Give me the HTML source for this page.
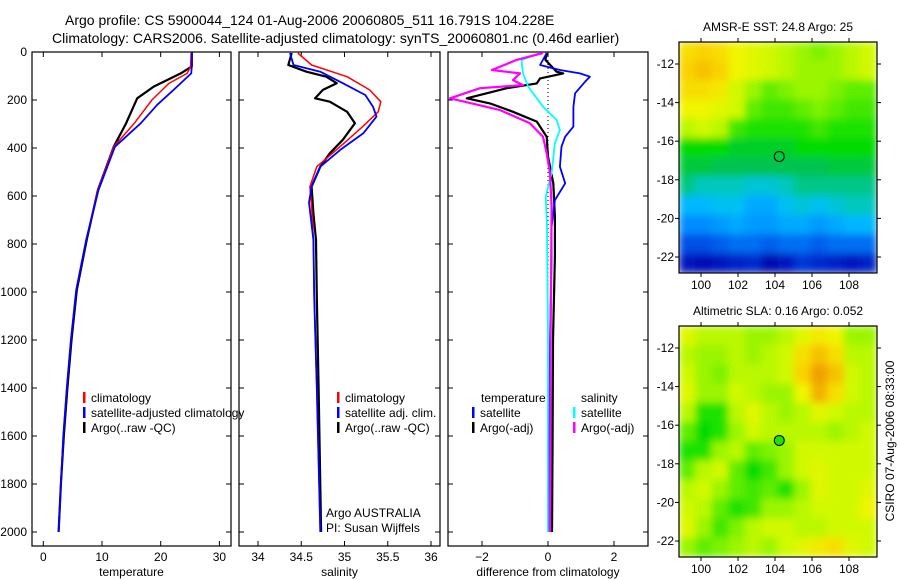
<!DOCTYPE html>
<html><head><meta charset="utf-8">
<style>
html,body{margin:0;padding:0;background:#fff;}
svg{display:block;font-family:"Liberation Sans",Arial,sans-serif;}
text{fill:#000;}
</style></head>
<body>
<svg id="chart" width="900" height="580" viewBox="0 0 900 580" xmlns="http://www.w3.org/2000/svg">
<text x="65" y="25" font-size="14">Argo profile: CS 5900044_124 01-Aug-2006 20060805_511 16.791S 104.228E</text>
<text x="52" y="43" font-size="14">Climatology: CARS2006. Satellite-adjusted climatology: synTS_20060801.nc (0.46d earlier)</text>
<g id="plots"></g>
</svg>
<script>
// ---------- data ----------
const depthTicks = [0,200,400,600,800,1000,1200,1400,1600,1800,2000];
const tempTicks = [0,10,20,30];
const salTicks = [34,34.5,35,35.5,36];
const diffTicks = [-2,0,2];
const latTicks = [-12,-14,-16,-18,-20,-22];
const lonTicks = [100,102,104,106,108];

const tClimDepth = [0,60,89,131,200,297,395,575,783,992,1200,1400,1600,1800,2000];
const tClimVal   = [25.2,25.1,24.5,21.4,18.5,15.5,12,9.3,7.3,5.6,4.7,4.0,3.4,3.0,2.6];
const tSatDepth  = [0,60,89,158,220,297,395,575,783,992,1200,1400,1600,1800,2000];
const tSatVal    = [25.3,25.3,25.2,22.2,19.4,16.6,12.2,9.4,7.3,5.6,4.7,4.0,3.4,3.0,2.6];
const tArgoDepth = [0,60,89,144,193,297,395,575,783,992,1200,1400,1600,1800,2000];
const tArgoVal   = [25.3,25.3,23.4,18.8,16,14.1,12,9.3,7.4,5.7,4.8,4.1,3.5,3.0,2.6];

const sClimDepth = [4,54,103,158,207,249,311,394,478,561,644,783,1020,1400,2000];
const sClimVal   = [34.46,34.62,35.03,35.29,35.42,35.39,35.21,34.95,34.68,34.6,34.62,34.64,34.65,34.68,34.72];
const sSatDepth  = [4,54,82,130,179,228,269,338,408,478,561,628,783,1020,1400,2000];
const sSatVal    = [34.37,34.41,34.72,34.98,35.24,35.33,35.37,35.22,34.95,34.72,34.62,34.59,34.64,34.65,34.68,34.72];
const sArgoDepth = [4,54,82,103,130,158,193,207,249,297,366,422,478,561,672,783,1020,1400,2000];
const sArgoVal   = [34.39,34.35,34.56,34.79,34.91,34.75,34.66,34.83,35.03,35.12,34.98,34.83,34.72,34.62,34.64,34.67,34.68,34.7,34.73];

const dTSatDepth = [4,54,75,89,103,124,172,228,311,353,394,478,547,617,728,853,1200,1600,2000];
const dTSatVal   = [-0.04,-0.24,0.36,0.97,1.27,1.12,0.82,0.77,0.77,0.52,0.41,0.36,0.52,0.21,0.11,0.11,0.06,0.05,0.05];
const dTArgoDepth = [4,33,82,89,110,131,151,193,214,249,290,353,436,547,686,853,1200,1600,2000];
const dTArgoVal   = [-0.04,-0.08,0.26,0.46,-0.24,-0.34,-1.25,-2.46,-1.76,-1.06,-0.34,-0.04,0.0,0.16,0.21,0.21,0.15,0.14,0.12];
const dSSatDepth = [4,33,89,144,228,283,325,380,505,603,728,1200,1600,2000];
const dSSatVal   = [-0.24,-0.8,-0.76,-0.6,-0.15,0.26,0.36,0.21,0.11,-0.07,-0.03,0.0,0.0,0.0];
const dSArgoDepth = [4,33,75,89,117,138,151,193,242,297,353,422,505,644,1200,1600,2000];
const dSArgoVal   = [-0.15,-0.95,-1.7,-0.85,-1.06,-0.76,-2.06,-2.97,-1.45,-0.55,-0.15,-0.04,0.06,0.11,0.08,0.07,0.06];

// map colour-scale values (0 = dark blue ... 1 = red), rows north->south
const sstGrid = [
[.72,.74,.72,.68,.66,.64,.62,.6,.58,.6,.62,.64],
[.74,.76,.74,.68,.66,.64,.62,.6,.6,.6,.62,.64],
[.72,.72,.7,.64,.6,.56,.58,.6,.6,.58,.56,.56],
[.68,.68,.66,.64,.56,.54,.54,.56,.58,.56,.54,.54],
[.62,.64,.62,.54,.52,.52,.52,.52,.54,.52,.52,.52],
[.5,.5,.5,.48,.48,.48,.48,.5,.5,.5,.5,.5],
[.47,.47,.46,.46,.46,.46,.46,.46,.46,.47,.47,.47],
[.44,.42,.42,.42,.40,.40,.42,.44,.44,.44,.44,.44],
[.36,.36,.38,.38,.34,.34,.38,.40,.38,.40,.42,.42],
[.30,.30,.32,.34,.32,.32,.34,.34,.32,.34,.36,.36],
[.22,.22,.24,.26,.26,.24,.26,.26,.24,.26,.26,.26],
[.12,.1,.12,.14,.16,.08,.12,.18,.16,.14,.12,.14]];
const slaGrid = [
[.66,.62,.62,.62,.6,.6,.62,.66,.7,.68,.6,.6],
[.62,.6,.6,.62,.6,.62,.64,.72,.76,.72,.62,.62],
[.64,.6,.58,.62,.62,.62,.64,.74,.8,.76,.64,.62],
[.66,.6,.6,.64,.62,.6,.6,.68,.78,.72,.64,.62],
[.62,.52,.52,.62,.66,.62,.6,.62,.66,.64,.62,.62],
[.56,.5,.52,.6,.64,.62,.62,.62,.62,.6,.62,.64],
[.52,.52,.6,.62,.56,.58,.6,.64,.64,.64,.64,.64],
[.56,.62,.64,.56,.5,.54,.6,.64,.66,.64,.64,.64],
[.62,.64,.6,.56,.54,.56,.52,.6,.66,.64,.64,.66],
[.64,.62,.56,.52,.54,.6,.6,.62,.64,.64,.64,.68],
[.66,.6,.54,.58,.62,.64,.64,.62,.62,.64,.64,.64],
[.6,.56,.58,.6,.62,.6,.64,.66,.7,.72,.66,.64]];
const argoLon = 104.23, argoLat = -16.79;

// ---------- drawing ----------
const NS="http://www.w3.org/2000/svg";
const root=document.getElementById('plots');
function mk(tag,attrs,parent){const e=document.createElementNS(NS,tag);for(const k in attrs)e.setAttribute(k,attrs[k]);(parent||root).appendChild(e);return e;}
function txt(s,x,y,size,anchor,parent){const t=mk('text',{x:x,y:y,'font-size':size,'text-anchor':anchor||'start'},parent);t.textContent=s;return t;}

const yD = d => 52 + d*0.24;
const xT = v => 43.3 + v*5.87;
const xS = v => 258 + (v-34)*86.5;
const xDf = v => 548 + v*33;

function panel(name,x0,x1,xf,ticks,title,labelFmt){
  const g=mk('g',{});
  
  
  const r=mk('rect',{x:x0,y:52,width:x1-x0,height:494,fill:'none',stroke:'#000','stroke-width':1.2},g);
  
  
  ticks.forEach(v=>{const x=xf(v);
    mk('line',{x1:x,x2:x,y1:546,y2:541,stroke:'#000'},g);
    mk('line',{x1:x,x2:x,y1:52,y2:57,stroke:'#000'},g);
    const t=txt(labelFmt?labelFmt(v):String(v),x,561,12,'middle',g);
    
    
  });
  depthTicks.forEach(d=>{const y=yD(d);
    mk('line',{x1:x0,x2:x0+5,y1:y,y2:y,stroke:'#000'},g);
    mk('line',{x1:x1,x2:x1-5,y1:y,y2:y,stroke:'#000'},g);
  });
  const at=txt(title,(x0+x1)/2,576,12,'middle',g);
  
  
  return g;
}
function series(g,name,xf,vals,depths,color,w){
  const pts=vals.map((v,i)=>xf(v).toFixed(1)+','+yD(depths[i]).toFixed(1)).join(' ');
  const p=mk('polyline',{points:pts,fill:'none',stroke:color,'stroke-width':w,'stroke-linejoin':'round'},g);
  
  
}
function legend(g,items,x,y){
  items.forEach((it,i)=>{
    const yy=y+i*15;
    mk('rect',{x:x,y:yy-10,width:2.5,height:11,fill:it[1]},g);
    const t=txt(it[0],x+8,yy,12,'start',g);
    
    
  });
}

// depth tick labels
depthTicks.forEach(d=>{const t=txt(String(d),27,yD(d)+4,12,'end');
  
  });

// temperature panel
const g1=panel('temperature-panel',32,231,xT,tempTicks,'temperature');
series(g1,'temp-argo-line',xT,tArgoVal,tArgoDepth,'#000',2.2);
series(g1,'temp-climatology-line',xT,tClimVal,tClimDepth,'#f00',1.5);
series(g1,'temp-satellite-line',xT,tSatVal,tSatDepth,'#00f',1.8);
legend(g1,[['climatology','#f00','climatology'],['satellite-adjusted climatology','#00f','satellite'],['Argo(..raw -QC)','#000','argo']],83,402);

// salinity panel
const g2=panel('salinity-panel',239,440,xS,salTicks,'salinity');
series(g2,'sal-argo-line',xS,sArgoVal,sArgoDepth,'#000',2.2);
series(g2,'sal-climatology-line',xS,sClimVal,sClimDepth,'#f00',1.5);
series(g2,'sal-satellite-line',xS,sSatVal,sSatDepth,'#00f',1.8);
legend(g2,[['climatology','#f00','climatology'],['satellite adj. clim.','#00f','satellite'],['Argo(..raw -QC)','#000','argo']],337,402);
{const t=txt('Argo AUSTRALIA',326,517,12,'start',g2);
 const t2=txt('PI: Susan Wijffels',326,532,12,'start',g2);}

// difference panel
const g3=panel('difference-panel',448,648,xDf,diffTicks,'difference from climatology',v=>v<0?'\u2212'+(-v):String(v));
mk('line',{x1:xDf(0),x2:xDf(0),y1:yD(0),y2:yD(2000),stroke:'#000','stroke-dasharray':'1,3','stroke-width':1},g3);
series(g3,'diff-temp-argo-line',xDf,dTArgoVal,dTArgoDepth,'#000',2.2);
series(g3,'diff-sal-satellite-line',xDf,dSSatVal,dSSatDepth,'#00ffff',1.8);
series(g3,'diff-temp-satellite-line',xDf,dTSatVal,dTSatDepth,'#00f',1.8);
series(g3,'diff-sal-argo-line',xDf,dSArgoVal,dSArgoDepth,'#f0f',2.2);
{const t=txt('temperature',481,402,12,'start',g3);
 const t2=txt('salinity',581,402,12,'start',g3);}
legend(g3,[['satellite','#00f','temp-satellite'],['Argo(-adj)','#000','temp-argo']],472,417);
legend(g3,[['satellite','#00ffff','sal-satellite'],['Argo(-adj)','#f0f','sal-argo']],573,417);

// colour maps
const stops=[[0,[0,0,140]],[.12,[0,20,190]],[.22,[0,80,230]],[.3,[0,140,255]],[.37,[0,190,255]],[.42,[0,200,190]],[.46,[0,195,80]],[.5,[0,220,0]],[.57,[110,240,0]],[.63,[200,250,0]],[.68,[240,245,0]],[.74,[250,210,0]],[.8,[240,160,0]],[.88,[210,100,0]],[1,[160,30,0]]];
function cmap(v){for(let i=1;i<stops.length;i++){if(v<=stops[i][0]){const a=stops[i-1],b=stops[i],t=(v-a[0])/(b[0]-a[0]);return 'rgb('+a[1].map((c,k)=>Math.round(c+(b[1][k]-c)*t)).join(',')+')';}}return 'rgb(160,30,0)';}

function mapPanel(name,grid,top,bottom,title,dotFill){
  const x0=679,x1=877;
  const lon=v=>701+(v-100)*18.5;
  const lat=v=>top+22+(-12-v)*19.3;
  const g=mk('g',{});
  
  
  const rows=grid.length,cols=grid[0].length,cw=(x1-x0)/cols,ch=(bottom-top)/rows;
  const cells=mk('g',{filter:'url(#soft)'},g);
  grid.forEach((row,r)=>row.forEach((v,c)=>{
    const cell=mk('rect',{x:x0+c*cw-0.3,y:top+r*ch-0.3,width:cw+0.6,height:ch+0.6,fill:cmap(v)},cells);
    
    
  }));
  mk('rect',{x:x0,y:top,width:x1-x0,height:bottom-top,fill:'none',stroke:'#000','stroke-width':1.2},g);
  latTicks.forEach(v=>{const y=lat(v);
    mk('line',{x1:x0-4,x2:x0,y1:y,y2:y,stroke:'#000'},g);mk('line',{x1:x1,x2:x1+4,y1:y,y2:y,stroke:'#000'},g);
    const t=txt(String(v),x0-5,y+4,12,'end',g);});
  lonTicks.forEach(v=>{const x=lon(v);
    mk('line',{x1:x,x2:x,y1:top-4,y2:top,stroke:'#000'},g);mk('line',{x1:x,x2:x,y1:bottom,y2:bottom+4,stroke:'#000'},g);
    const t=txt(String(v),x,bottom+16,12,'middle',g);});
  const c=mk('circle',{cx:lon(argoLon),cy:lat(argoLat),r:5,fill:dotFill,stroke:'#000','stroke-width':1},g);
  
  
  const t=txt(title,(x0+x1)/2,top-11,12,'middle',g);
  
  
}
const defs=mk('defs',{});
const f=mk('filter',{id:'soft',x:'0',y:'0',width:'1',height:'1'},defs);
mk('feGaussianBlur',{stdDeviation:'4',edgeMode:'duplicate'},f);
mapPanel('sst-map',sstGrid,42,273,'AMSR-E SST: 24.8 Argo: 25','none');
mapPanel('sla-map',slaGrid,326,557,'Altimetric SLA: 0.16 Argo: 0.052',cmap(0.52));
{const t=txt('CSIRO 07-Aug-2006 08:33:00',0,0,12,'middle');
 t.setAttribute('transform','translate(894,441) rotate(-90)');
 
 }
</script>
</body></html>
